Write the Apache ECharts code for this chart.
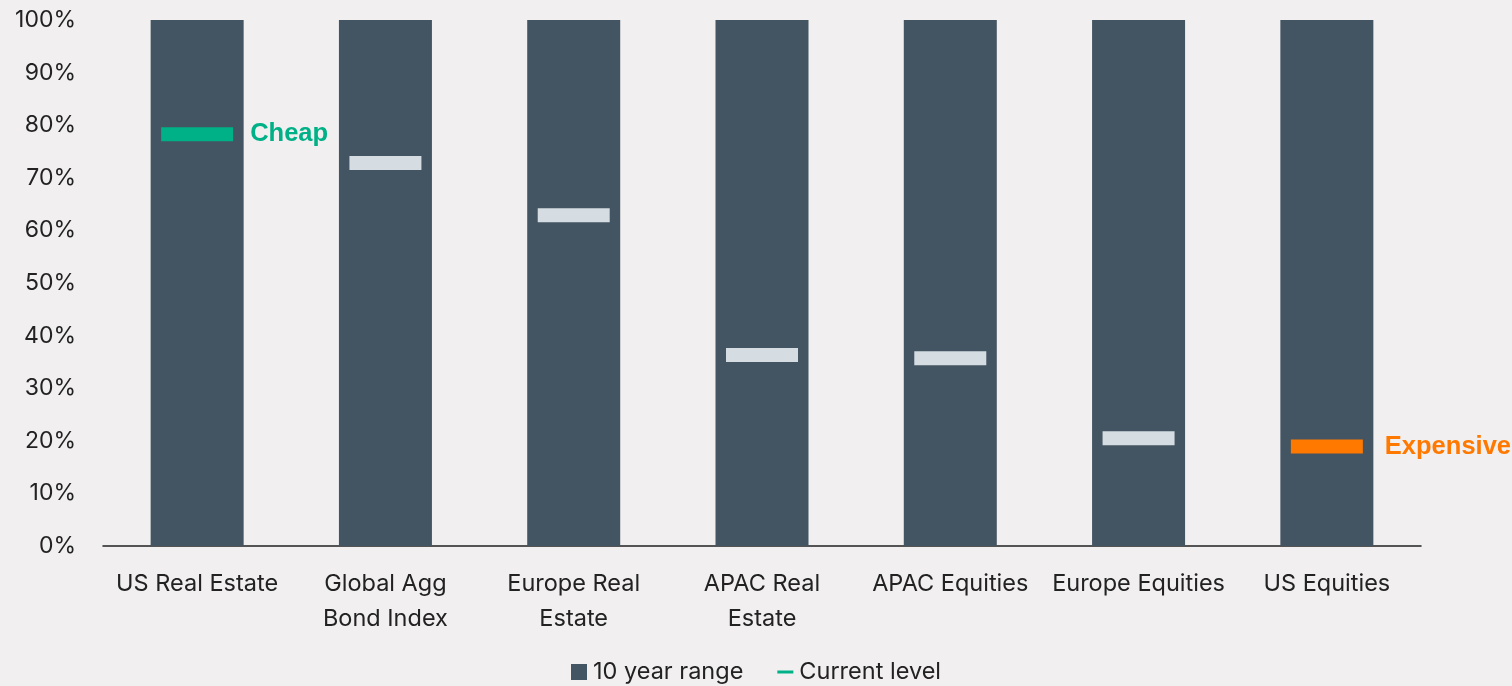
<!DOCTYPE html>
<html><head><meta charset="utf-8">
<script src="https://cdn.jsdelivr.net/npm/echarts@6/dist/echarts.min.js"></script>
<style>html,body{margin:0;padding:0;background:#F1EFF0}#c{width:1512px;height:686px}</style>
</head><body><div id="c"></div>
<script>
var categories = ['US Real Estate','Global Agg\nBond Index','Europe Real\nEstate','APAC Real\nEstate','APAC Equities','Europe Equities','US Equities'];
var rangeValues = [100,100,100,100,100,100,100];
var currentValues = [78.3,72.8,62.9,36.3,35.7,20.5,18.9];
var markerLabels = ['Cheap','','','','','','Expensive'];
var markerColors = ['#00B086','#D5DCE2','#D5DCE2','#D5DCE2','#D5DCE2','#D5DCE2','#FF7900'];
var yTicks = [0,10,20,30,40,50,60,70,80,90,100];

var font = 'Inter, "Liberation Sans", sans-serif';
var chart = echarts.init(document.getElementById('c'));
chart.setOption({
  backgroundColor: '#F1EFF0',
  animation: false,
  textStyle: {fontFamily: font},
  grid: {left: 103, right: 91, top: 20, bottom: 140, containLabel: false},
  legend: {
    bottom: -3, left: 'center', itemGap: 34, itemWidth: 16, itemHeight: 16,
    textStyle: {fontSize: 23.5, color: '#222', fontFamily: font, padding: [0,0,0,1]},
    data: [
      {name: '10 year range', icon: 'rect'},
      {name: 'Current level', icon: 'path://M0,0H16V3H0Z'}
    ]
  },
  xAxis: {
    type: 'category', data: categories,
    axisLine: {lineStyle: {color: '#222', width: 1.5}},
    axisTick: {show: false},
    axisLabel: {fontSize: 23.5, color: '#222', lineHeight: 35, margin: 20, interval: 0, fontFamily: font}
  },
  yAxis: {
    type: 'value', min: 0, max: 100, interval: 10,
    axisLine: {show: false}, axisTick: {show: false}, splitLine: {show: false},
    axisLabel: {fontSize: 23, color: '#222', margin: 27, fontFamily: font,
      formatter: function(v){ return yTicks.indexOf(v) >= 0 ? v + '%' : ''; }}
  },
  series: [
    {name: '10 year range', type: 'bar', data: rangeValues, barWidth: 93,
     itemStyle: {color: '#435462'}},
    {name: 'Current level', type: 'scatter', symbol: 'rect', symbolSize: [72, 14],
     itemStyle: {color: '#00B086', opacity: 1}, z: 5,
     data: currentValues.map(function(v, i){
       return {value: v, itemStyle: {color: markerColors[i]},
         label: {show: markerLabels[i] !== '', formatter: markerLabels[i], position: 'right',
           distance: i === 0 ? 17 : 22, color: markerColors[i], fontSize: 25.5, fontWeight: 'bold',
           fontFamily: '"Liberation Sans", Arial, sans-serif'}};
     })}
  ]
});
</script></body></html>
